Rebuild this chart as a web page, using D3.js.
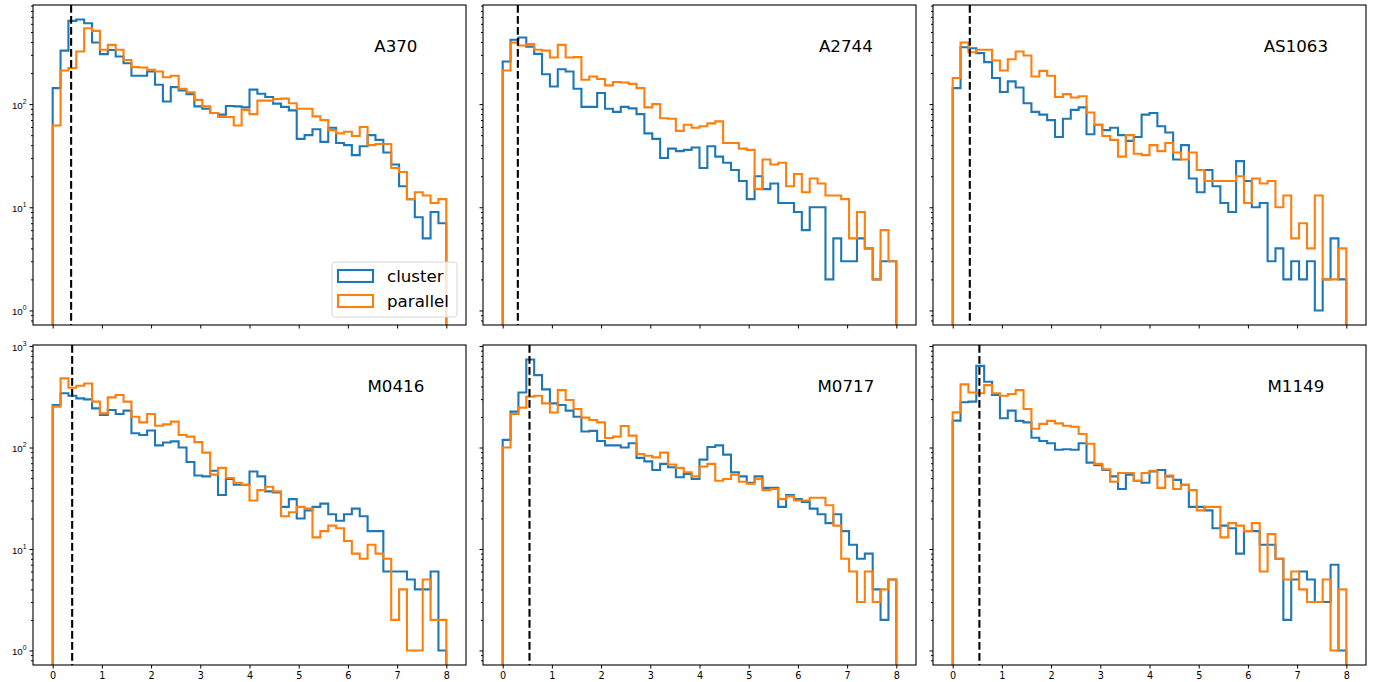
<!DOCTYPE html>
<html>
<head>
<meta charset="utf-8">
<script src="https://cdn.jsdelivr.net/npm/d3@7"></script>
<style>
  body { margin: 0; background: #fff; }
  svg { font-family: "DejaVu Sans", sans-serif; }
</style>
</head>
<body>
<svg id="hist"></svg>
<script>
// fields and their redshift (dashed line)
const fields = ["A370", "A2744", "AS1063", "M0416", "M0717", "M1149"];
const redshifts = [0.375, 0.308, 0.348, 0.396, 0.545, 0.543];
const seriesNames = ["cluster", "parallel"];
const seriesColors = ["#1f77b4", "#ff7f0e"];

// 50 bins of width 0.16 from 0 to 8
const binStart = 0, binWidth = 0.16;
const xTicks = [0, 1, 2, 3, 4, 5, 6, 7, 8];
const yTickExps = [0, 1, 2, 3];

// counts per bin
const a370Cluster = [143, 330, 640, 660, 608, 395, 305, 335, 289, 249, 188, 188, 207, 154, 106, 146, 136, 125, 95, 90, 82, 79, 96, 95, 93, 138, 126, 117, 101, 94, 87, 46, 50, 57, 43, 59, 42, 40, 32, 39, 50, 45, 34, 26, 16, 12, 8, 5, 9, 7];
const a370Parallel = [62, 212, 223, 324, 543, 512, 336, 375, 336, 268, 228, 226, 215, 207, 182, 188, 141, 130, 110, 95, 82, 75, 75, 62, 88, 80, 108, 108, 112, 113, 102, 90, 90, 76, 70, 56, 52, 54, 49, 60, 40, 41, 41, 24, 22, 12, 14, 13, 11, 12];
const a2744Cluster = [259, 420, 442, 361, 307, 195, 148, 218, 207, 141, 94, 94, 128, 90, 84, 94, 91, 80, 52, 46, 30, 37, 35, 36, 38, 24, 39, 31, 27, 23, 18, 12, 20, 15, 17, 11, 11, 9, 6, 10, 10, 2, 5, 3, 3, 5, 4, 2, 3, 3];
const a2744Parallel = [212, 395, 370, 381, 336, 330, 283, 375, 283, 285, 172, 185, 175, 152, 164, 162, 157, 143, 93, 100, 73, 72, 55, 63, 59, 61, 65, 68, 42, 42, 37, 36, 15, 29, 26, 27, 16, 21, 14, 19, 17, 13, 13, 12, 5, 9, 4, 2, 6, 3];
const as1063Cluster = [143, 356, 348, 312, 255, 179, 131, 166, 145, 102, 84, 79, 70, 48, 72, 88, 93, 51, 63, 56, 59, 50, 44, 48, 79, 82, 61, 53, 29, 40, 19, 14, 23, 16, 11, 9, 28, 18, 10, 11, 3, 4, 2, 3, 2, 3, 1, 2, 5, 2];
const as1063Parallel = [179, 395, 318, 336, 336, 265, 212, 272, 324, 296, 185, 210, 188, 117, 125, 116, 119, 83, 63, 49, 45, 31, 50, 33, 32, 40, 35, 42, 34, 29, 34, 23, 18, 18, 18, 18, 20, 11, 19, 17, 18, 10, 13, 5, 7, 4, 13, 2, 2, 4];
const m0416Cluster = [262, 342, 324, 305, 298, 243, 209, 234, 214, 231, 138, 133, 147, 105, 112, 115, 100, 72, 53, 52, 59, 34, 49, 43, 43, 58, 52, 37, 36, 26, 31, 20, 24, 26, 28, 22, 19, 22, 25, 21, 15, 15, 6, 6, 6, 5, 4, 4, 6, 1];
const m0416Parallel = [253, 480, 388, 406, 428, 283, 217, 312, 329, 283, 201, 177, 214, 164, 169, 180, 133, 128, 113, 89, 54, 63, 50, 45, 43, 30, 38, 41, 37, 21, 23, 26, 25, 13, 15, 17, 16, 12, 9, 8, 11, 9, 8, 2, 4, 1, 1, 5, 2, 2];
const m0717Cluster = [119, 226, 349, 736, 517, 374, 272, 262, 231, 201, 144, 146, 116, 105, 105, 100, 110, 79, 73, 60, 69, 64, 51, 55, 49, 76, 101, 105, 85, 57, 52, 45, 52, 40, 40, 26, 34, 31, 29, 25, 22, 18, 22, 15, 11, 8, 9, 4, 2, 5];
const m0717Parallel = [100, 214, 247, 317, 324, 272, 221, 368, 294, 240, 197, 187, 177, 124, 128, 163, 131, 86, 83, 80, 89, 68, 63, 57, 52, 65, 69, 47, 49, 54, 46, 44, 49, 38, 39, 31, 33, 30, 30, 32, 32, 27, 17, 8, 6, 3, 6, 3, 4, 5];
const m1149Cluster = [184, 279, 283, 638, 444, 329, 194, 231, 183, 177, 125, 116, 110, 95, 96, 95, 110, 71, 67, 60, 52, 39, 54, 47, 45, 58, 60, 52, 48, 43, 26, 26, 24, 16, 17, 16, 9, 15, 15, 11, 11, 8, 2, 5, 6, 5, 3, 3, 7, 1];
const m1149Parallel = [222, 419, 349, 342, 412, 342, 324, 337, 368, 240, 153, 171, 183, 173, 164, 160, 136, 109, 69, 61, 46, 56, 56, 47, 56, 59, 40, 53, 39, 43, 38, 24, 26, 26, 13, 18, 17, 15, 18, 6, 14, 8, 5, 6, 4, 3, 3, 5, 1, 4];

const panels = [
    [a370Cluster, a370Parallel], [a2744Cluster, a2744Parallel], [as1063Cluster, as1063Parallel],
    [m0416Cluster, m0416Parallel], [m0717Cluster, m0717Parallel], [m1149Cluster, m1149Parallel]
];

const svgWidth = 1373, svgHeight = 682;
const colLeft = [33, 483, 933], rowTop = [5, 345];
const width = 433, height = 320;

const svg = d3.select('#hist')
    .attr("width", svgWidth)
    .attr("height", svgHeight);

const x = d3.scaleLinear()
    .domain([-0.4, 8.4])
    .range([0, width]);

// y shared per row, matplotlib-like 5% log margins
const yScales = [0, 1].map(row => {
    const rowMax = d3.max(panels.slice(row * 3, row * 3 + 3).flat(2));
    const L = Math.log10(rowMax);
    return d3.scaleLog().domain([Math.pow(10, -0.05 * L), Math.pow(10, 1.05 * L)]).range([height, 0]);
});

const stepPoints = (counts) => {
    const pts = [[binStart, null]];
    counts.forEach((c, i) => {
        pts.push([binStart + i * binWidth, c]);
        pts.push([binStart + (i + 1) * binWidth, c]);
    });
    pts.push([binStart + counts.length * binWidth, null]);
    return pts;
}

panels.forEach((series, p) => {
    const row = Math.floor(p / 3), col = p % 3;
    const y = yScales[row];

    const g = svg.append("g")
        .attr("transform", "translate(" + colLeft[col] + "," + rowTop[row] + ")");

    g.append("clipPath").attr("id", "clip" + p)
        .append("rect").attr("width", width).attr("height", height);

    const line = d3.line()
        .x(d => x(d[0]))
        .y(d => d[1] === null ? height + 10 : y(d[1]));

    const plot = g.append("g").attr("clip-path", "url(#clip" + p + ")");

    series.forEach((counts, s) => {
        plot.append("path")
            .datum(stepPoints(counts))
            .attr("fill", "none")
            .attr("stroke", seriesColors[s])
            .attr("stroke-width", 2.1)
            .attr("stroke-linejoin", "miter")
            .attr("d", line);
    });

    plot.append("line")
        .attr("x1", x(redshifts[p])).attr("x2", x(redshifts[p]))
        .attr("y1", 0).attr("y2", height)
        .attr("stroke", "#000")
        .attr("stroke-width", 2.1)
        .attr("stroke-dasharray", "7.7,3.3");

    // x axis: labels only on the bottom row
    const xAxis = g.append("g")
        .attr("transform", "translate(0," + height + ")")
        .call(d3.axisBottom(x).tickValues(xTicks).tickSize(3.5).tickPadding(3.5));
    xAxis.select(".domain").remove();
    xAxis.selectAll("text").attr("font-size", 9.7).attr("fill", "#000")
        .attr("font-family", "DejaVu Sans");
    if (row === 0) xAxis.selectAll("text").remove();

    // y axis: minor ticks then decades
    const [lo, hi] = y.domain();
    const minor = [];
    for (let e = -1; e <= 3; e++) {
        for (let m = 2; m <= 9; m++) {
            const v = m * Math.pow(10, e);
            if (v >= lo && v <= hi) minor.push(v);
        }
    }
    const yMinor = g.append("g")
        .call(d3.axisLeft(y).tickValues(minor).tickSize(2).tickFormat(""));
    yMinor.select(".domain").remove();

    const majors = yTickExps.map(e => Math.pow(10, e)).filter(v => v >= lo && v <= hi * 1.001);
    const yAxis = g.append("g")
        .call(d3.axisLeft(y).tickValues(majors).tickSize(3.5).tickPadding(3).tickFormat(""));
    yAxis.select(".domain").remove();
    if (col === 0) {
        yAxis.selectAll(".tick text")
            .attr("font-size", 9.7)
            .attr("fill", "#000")
            .attr("dy", "0.45em")
            .each(function (d) {
                const t = d3.select(this);
                t.append("tspan").text("10");
                t.append("tspan").attr("font-size", 6.8).attr("dy", "-0.75em").text(Math.round(Math.log10(d)));
            });
    }
    g.selectAll(".tick line").attr("stroke", "#000").attr("stroke-width", 1);

    // frame
    g.append("rect")
        .attr("width", width).attr("height", height)
        .attr("fill", "none")
        .attr("stroke", "#000")
        .attr("stroke-width", 1.1);

    g.append("text")
        .attr("x", 0.838 * width)
        .attr("y", 0.146 * height)
        .attr("text-anchor", "middle")
        .attr("font-size", 16.67)
        .attr("fill", "#000")
        .text(fields[p]);

    // legend in the first panel
    if (p === 0) {
        const lg = g.append("g").attr("transform", "translate(299,257)");
        lg.append("rect")
            .attr("width", 125).attr("height", 55).attr("rx", 3)
            .attr("fill", "#fff").attr("fill-opacity", 0.8)
            .attr("stroke", "#d6d6d6").attr("stroke-width", 1);
        seriesNames.forEach((name, s) => {
            lg.append("rect")
                .attr("x", 6).attr("y", 8 + s * 25)
                .attr("width", 35).attr("height", 12)
                .attr("fill", "none")
                .attr("stroke", seriesColors[s])
                .attr("stroke-width", 2.1);
            lg.append("text")
                .attr("x", 55).attr("y", 14 + s * 25)
                .attr("dy", "0.36em")
                .attr("font-size", 16.67)
                .attr("fill", "#000")
                .text(name);
        });
    }
});
</script>
</body>
</html>
